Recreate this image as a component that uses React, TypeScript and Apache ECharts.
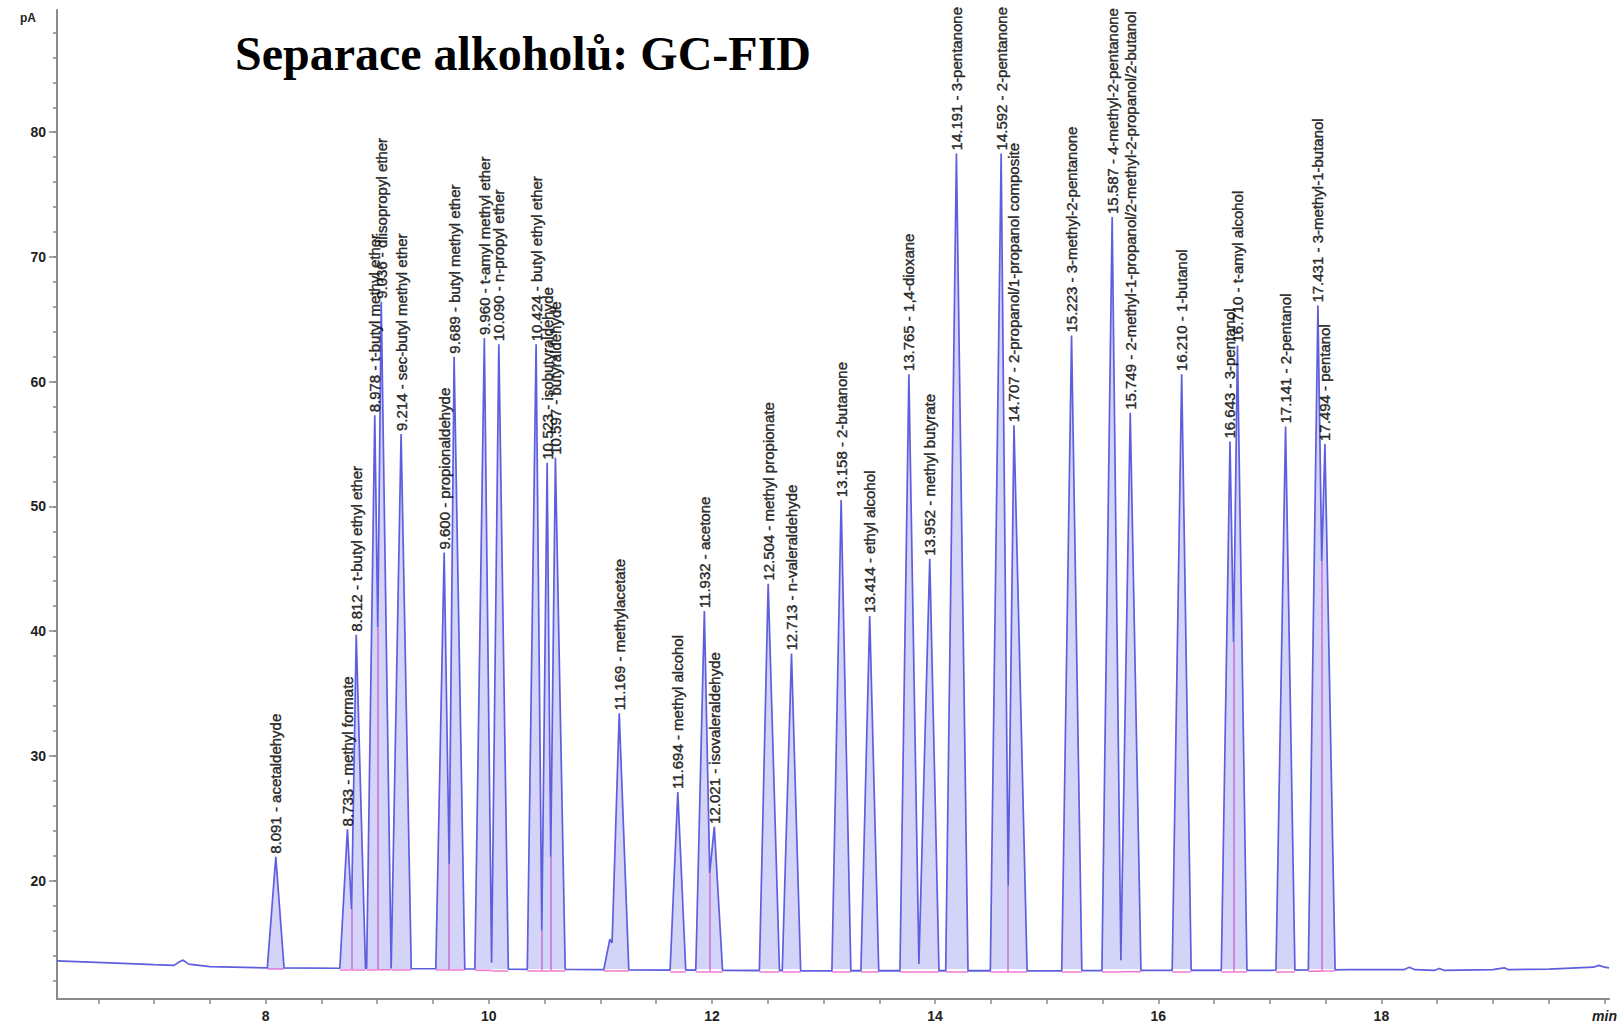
import React, { useEffect, useRef } from "react";
import * as echarts from "echarts";

// ---------- data ----------
const chartTitle = "Separace alkoholů: GC-FID";
const yUnit = "pA";
const xUnit = "min";

const peakRT = [8.091, 8.733, 8.812, 8.978, 9.036, 9.214, 9.6, 9.689, 9.96, 10.09, 10.424, 10.523, 10.597, 11.085, 11.169, 11.694, 11.932, 12.021, 12.504, 12.713, 13.158, 13.414, 13.765, 13.952, 14.191, 14.592, 14.707, 15.223, 15.587, 15.749, 16.21, 16.643, 16.71, 17.141, 17.431, 17.494];
const peakPA = [21.9, 24.1, 39.7, 57.3, 66.4, 55.8, 46.3, 62.0, 63.5, 63.0, 63.0, 53.5, 53.9, 15.3, 33.4, 27.1, 41.6, 24.3, 43.8, 38.2, 50.5, 41.2, 60.6, 45.8, 78.3, 78.3, 56.5, 63.7, 73.2, 57.5, 60.6, 55.2, 62.9, 56.4, 66.1, 55.0];
const peakName = ["acetaldehyde", "methyl formate", "t-butyl ethyl ether", "t-butyl methyl ether", "diisopropyl ether", "sec-butyl methyl ether", "propionaldehyde", "butyl methyl ether", "t-amyl methyl ether", "n-propyl ether", "butyl ethyl ether", "isobutyraldehyde", "butyraldehyde", "", "methylacetate", "methyl alcohol", "acetone", "isovaleraldehyde", "methyl propionate", "n-valeraldehyde", "2-butanone", "ethyl alcohol", "1,4-dioxane", "methyl butyrate", "3-pentanone", "2-pentanone", "2-propanol/1-propanol composite", "3-methyl-2-pentanone", "4-methyl-2-pentanone", "2-methyl-1-propanol/2-methyl-2-propanol/2-butanol", "1-butanol", "3-pentanol", "t-amyl alcohol", "2-pentanol", "3-methyl-1-butanol", "pentanol"];
const peakStart = [8.015, 8.665, 8.77, 8.905, 9.005, 9.13, 9.525, 9.645, 9.875, 10.025, 10.345, 10.475, 10.555, 11.03, 11.105, 11.625, 11.855, 11.98, 12.425, 12.63, 13.075, 13.335, 13.685, 13.855, 14.095, 14.495, 14.655, 15.135, 15.495, 15.665, 16.125, 16.565, 16.675, 17.055, 17.345, 17.465];
const peakEnd = [8.165, 8.77, 8.895, 9.005, 9.125, 9.305, 9.645, 9.785, 10.025, 10.175, 10.475, 10.555, 10.685, 11.105, 11.255, 11.765, 11.98, 12.095, 12.605, 12.795, 13.245, 13.495, 13.855, 14.035, 14.295, 14.655, 14.825, 15.315, 15.665, 15.845, 16.295, 16.675, 16.795, 17.225, 17.465, 17.585];

const valleyRT = [8.77, 9.005, 9.645, 10.025, 10.475, 10.555, 11.105, 11.98, 13.855, 14.655, 15.665, 16.675, 17.465];
const valleyPA = [17.7, 40.3, 21.3, 13.4, 16.0, 21.9, 15.0, 20.6, 13.3, 19.6, 13.6, 39.1, 45.6];

const dropRT = [8.77, 9.005, 9.645, 10.475, 10.555, 11.98, 14.655, 16.675, 17.465];
const dropTop = [17.7, 40.3, 21.3, 16.0, 21.9, 20.6, 19.6, 39.1, 45.6];

const baselineRT = [6.13, 6.6, 7.0, 7.18, 7.22, 7.26, 7.31, 7.5, 8.0, 9.0, 10.0, 11.0, 12.0, 13.0, 14.0, 15.0, 16.0, 17.0, 17.7, 18.2, 18.25, 18.3, 18.48, 18.52, 18.56, 19.0, 19.1, 19.14, 19.5, 19.9, 19.95, 20.0, 20.04];
const baselinePA = [13.55, 13.4, 13.25, 13.2, 13.45, 13.62, 13.3, 13.1, 13.0, 12.95, 12.9, 12.85, 12.8, 12.75, 12.75, 12.75, 12.8, 12.8, 12.85, 12.85, 13.05, 12.85, 12.8, 12.95, 12.8, 12.85, 13.0, 12.85, 12.9, 13.05, 13.2, 13.05, 13.0];

const xTickValues = [6.5, 7, 7.5, 8, 8.5, 9, 9.5, 10, 10.5, 11, 11.5, 12, 12.5, 13, 13.5, 14, 14.5, 15, 15.5, 16, 16.5, 17, 17.5, 18, 18.5, 19, 19.5, 20];
const xLabelValues = [8, 10, 12, 14, 16, 18, 20];
const yMinorTicks = [12, 14, 16, 18, 20, 22, 24, 26, 28, 30, 32, 34, 36, 38, 40, 42, 44, 46, 48, 50, 52, 54, 56, 58, 60, 62, 64, 66, 68, 70, 72, 74, 76, 78, 80, 82, 84, 86, 88];
const yLabelValues = [20, 30, 40, 50, 60, 70, 80];

// ---------- helpers ----------
function baselineAt(t: number): number {
  for (let i = 0; i < baselineRT.length - 1; i++) {
    if (t >= baselineRT[i] && t <= baselineRT[i + 1]) {
      const f = (t - baselineRT[i]) / (baselineRT[i + 1] - baselineRT[i]);
      return baselinePA[i] + f * (baselinePA[i + 1] - baselinePA[i]);
    }
  }
  return baselinePA[baselinePA.length - 1];
}
function footValue(t: number): number {
  const k = valleyRT.findIndex((v) => Math.abs(v - t) < 1e-6);
  return k >= 0 ? valleyPA[k] : baselineAt(t);
}
function inPeak(t: number, strict: boolean): boolean {
  return peakStart.some((s, j) => (strict ? t > s && t < peakEnd[j] : t >= s - 1e-9 && t <= peakEnd[j] + 1e-9));
}
function buildTrace(): number[][] {
  const pts: number[][] = [];
  baselineRT.forEach((t, i) => {
    if (!inPeak(t, true)) pts.push([t, baselinePA[i]]);
  });
  peakRT.forEach((rt, i) => {
    pts.push([peakStart[i], footValue(peakStart[i])]);
    pts.push([rt, peakPA[i]]);
    pts.push([peakEnd[i], footValue(peakEnd[i])]);
  });
  pts.sort((a, b) => a[0] - b[0]);
  const out: number[][] = [];
  pts.forEach((p) => {
    if (out.length && Math.abs(out[out.length - 1][0] - p[0]) < 1e-9) return;
    out.push(p);
  });
  return out;
}

export default function App() {
  const ref = useRef<HTMLDivElement>(null);
  useEffect(() => {
    if (!ref.current) return;
    const chart = echarts.init(ref.current, undefined, { renderer: "svg" });
    const trace = buildTrace();
    // area only under peaks (gaps elsewhere)
    const areaData = trace.map((p) => (inPeak(p[0], false) ? p : [p[0], null]));
    const pinkSegments = [
      ...peakRT.map((_, i) => ({
        coords: [
          [peakStart[i], baselineAt(peakStart[i]) - 0.1],
          [peakEnd[i], baselineAt(peakEnd[i]) - 0.1],
        ],
      })),
      ...dropRT.map((t, i) => ({
        coords: [
          [t, baselineAt(t) - 0.1],
          [t, dropTop[i]],
        ],
      })),
    ];
    const labelFont = '"Liberation Sans", Arial, sans-serif';
    chart.setOption({
      animation: false,
      backgroundColor: "#ffffff",
      grid: { left: 57, right: 6, top: 10, bottom: 27, containLabel: false },
      xAxis: {
        type: "value",
        min: 6.13,
        max: 20.04,
        axisLine: { onZero: false, lineStyle: { color: "#8a8a8a", width: 2 } },
        axisTick: { show: true, customValues: xTickValues, length: 5, lineStyle: { color: "#8a8a8a", width: 1.5 } },
        axisLabel: {
          customValues: xLabelValues,
          margin: 10,
          fontSize: 14,
          fontWeight: "bold",
          fontFamily: labelFont,
          color: "#222",
          formatter: (v: number) => (v === 20 ? "{m|" + xUnit + "}" : String(v)),
          rich: { m: { fontStyle: "italic", fontSize: 14, fontWeight: "bold", fontFamily: labelFont, color: "#222" } },
        },
        splitLine: { show: false },
      },
      yAxis: [
        {
          type: "value",
          min: 10.5,
          max: 89.8,
          position: "left",
          axisLine: { show: true, lineStyle: { color: "#8a8a8a", width: 2 } },
          axisTick: { show: true, customValues: yMinorTicks, length: 4, lineStyle: { color: "#8a8a8a", width: 1.5 } },
          axisLabel: { show: false },
          splitLine: { show: false },
        },
        {
          type: "value",
          min: 10.5,
          max: 89.8,
          position: "left",
          axisLine: { show: false },
          axisTick: { show: true, customValues: yLabelValues, length: 8, lineStyle: { color: "#8a8a8a", width: 1.5 } },
          axisLabel: {
            customValues: yLabelValues,
            margin: 11,
            fontSize: 14,
            fontWeight: "bold",
            fontFamily: labelFont,
            color: "#222",
          },
          splitLine: { show: false },
        },
      ],
      graphic: [
        {
          type: "text",
          left: 235,
          top: 29,
          style: {
            text: chartTitle,
            font: 'bold 48px "Liberation Serif", "Times New Roman", serif',
            fill: "#000",
          },
        },
        {
          type: "text",
          left: 20,
          top: 12,
          style: {
            text: yUnit,
            font: 'bold 12px "Liberation Sans", Arial, sans-serif',
            fill: "#222",
          },
        },
      ],
      series: [
        {
          type: "lines",
          coordinateSystem: "cartesian2d",
          xAxisIndex: 0,
          yAxisIndex: 0,
          z: 1,
          silent: true,
          lineStyle: { color: "#f07ad2", width: 1.6, opacity: 1 },
          data: pinkSegments,
        },
        {
          type: "line",
          xAxisIndex: 0,
          yAxisIndex: 0,
          z: 2,
          showSymbol: false,
          symbol: "none",
          silent: true,
          connectNulls: false,
          data: areaData,
          lineStyle: { width: 0, opacity: 0 },
          areaStyle: { origin: 12.9, color: "rgba(110,110,232,0.42)" },
        },
        {
          type: "line",
          xAxisIndex: 0,
          yAxisIndex: 0,
          z: 3,
          showSymbol: false,
          symbol: "none",
          silent: true,
          data: trace,
          lineStyle: { color: "#5e5ede", width: 1.7 },
        },
        {
          type: "scatter",
          xAxisIndex: 0,
          yAxisIndex: 0,
          z: 4,
          symbolSize: 0,
          silent: true,
          data: peakRT.map((t, i) => ({
            value: [t, peakPA[i]],
            name: peakName[i],
            label: { show: peakName[i] !== "" },
          })),
          label: {
            show: true,
            rotate: 90,
            position: "top",
            align: "left",
            verticalAlign: "middle",
            distance: 3,
            fontSize: 15,
            fontFamily: labelFont,
            color: "#000",
            textBorderColor: "#000",
            textBorderWidth: 0.45,
            formatter: (p: any) => p.value[0].toFixed(3) + " - " + p.name,
          },
        },
      ],
    });
    return () => chart.dispose();
  }, []);
  return (
    <div
      ref={ref}
      style={{ position: "absolute", left: 0, top: 0, width: 1620, height: 1026, background: "#fff" }}
    />
  );
}
